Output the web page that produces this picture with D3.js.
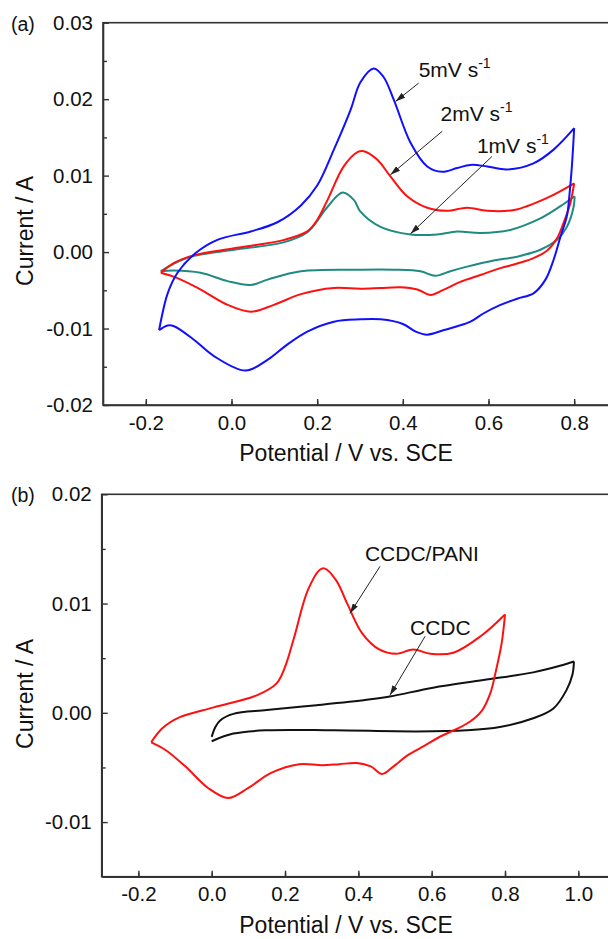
<!DOCTYPE html>
<html>
<head>
<meta charset="utf-8">
<script src="https://cdn.jsdelivr.net/npm/d3@7"></script>
<style>
body { margin: 0; background: #fff; }
svg { display: block; font-family: "Liberation Sans", Arial, sans-serif; }
</style>
</head>
<body>
<div id="container"></div>
<script>
// CV curves, [potential (V), current (A)]
// panel (a): scan rates, each loop split into forward / reverse sweep
const blue5Fwd = [[-0.169,-0.0102],[-0.149,-0.0054],[-0.126,-0.0027],[-0.083,-0.0001],[-0.033,0.0016],[0.045,0.0027],[0.107,0.0039],[0.162,0.0061],[0.2,0.0087],[0.239,0.0134],[0.278,0.0186],[0.301,0.0222],[0.332,0.024],[0.355,0.0229],[0.379,0.0199],[0.418,0.0143],[0.457,0.0112],[0.492,0.0105],[0.527,0.011],[0.558,0.0114],[0.597,0.0112],[0.643,0.0108],[0.705,0.0116],[0.752,0.0134],[0.80,0.0162]];
const blue5Rev = [[0.80,0.0162],[0.795,0.0115],[0.789,0.0075],[0.783,0.0047],[0.768,0.002],[0.752,-0.001],[0.733,-0.0036],[0.705,-0.0054],[0.667,-0.0061],[0.628,-0.0069],[0.589,-0.008],[0.558,-0.0091],[0.527,-0.0097],[0.496,-0.0102],[0.457,-0.0108],[0.43,-0.0104],[0.4,-0.0094],[0.348,-0.0088],[0.301,-0.0088],[0.239,-0.0091],[0.177,-0.0104],[0.13,-0.0121],[0.084,-0.0141],[0.033,-0.0155],[-0.041,-0.0136],[-0.087,-0.0115],[-0.134,-0.0097],[-0.149,-0.0096],[-0.169,-0.0102]];
const red2Fwd = [[-0.165,-0.0027],[-0.134,-0.0014],[-0.087,-0.0004],[0.006,0.0005],[0.123,0.0016],[0.177,0.0027],[0.2,0.0042],[0.224,0.0068],[0.262,0.0112],[0.295,0.0131],[0.309,0.0132],[0.34,0.0121],[0.371,0.0099],[0.41,0.0073],[0.457,0.0058],[0.503,0.0054],[0.55,0.0058],[0.597,0.0054],[0.659,0.0055],[0.737,0.0071],[0.80,0.009]];
const red2Rev = [[0.80,0.009],[0.791,0.0064],[0.775,0.0038],[0.76,0.0018],[0.737,0.0002],[0.705,-0.0008],[0.667,-0.0015],[0.628,-0.0021],[0.581,-0.003],[0.534,-0.0039],[0.496,-0.0049],[0.465,-0.0056],[0.434,-0.0049],[0.395,-0.0046],[0.348,-0.0047],[0.301,-0.0048],[0.239,-0.0047],[0.162,-0.0055],[0.099,-0.0069],[0.045,-0.0078],[-0.009,-0.0069],[-0.072,-0.0049],[-0.126,-0.0034],[-0.165,-0.0027]];
const teal1Fwd = [[-0.165,-0.0025],[-0.134,-0.0015],[-0.087,-0.0005],[0.006,0.0003],[0.123,0.0013],[0.177,0.0026],[0.224,0.0059],[0.259,0.0078],[0.286,0.0068],[0.301,0.0053],[0.348,0.0033],[0.418,0.0023],[0.48,0.0023],[0.527,0.0027],[0.581,0.0025],[0.651,0.0029],[0.721,0.0044],[0.768,0.006],[0.801,0.0073]];
const teal1Rev = [[0.801,0.0073],[0.799,0.006],[0.783,0.0033],[0.76,0.0016],[0.721,0.0003],[0.667,-0.0006],[0.612,-0.0011],[0.55,-0.0019],[0.511,-0.0025],[0.476,-0.0031],[0.441,-0.0025],[0.379,-0.0023],[0.301,-0.0023],[0.162,-0.0025],[0.084,-0.0036],[0.045,-0.0043],[-0.009,-0.0038],[-0.072,-0.0027],[-0.134,-0.0024],[-0.165,-0.0025]];
// panel (b): bare CCDC electrode (the CCDC/PANI curve is the 2 mV/s one)
const ccdcFwd = [[0.0,-0.0022],[0.01,-0.0013],[0.023,-0.0007],[0.059,-0.0001],[0.15,0.00025],[0.286,0.0007],[0.423,0.0012],[0.486,0.0015],[0.604,0.0023],[0.741,0.003],[0.877,0.0037],[0.95,0.0043],[0.988,0.0047]];
const ccdcRev = [[0.988,0.0047],[0.984,0.0035],[0.968,0.0021],[0.932,0.0004],[0.877,-0.0005],[0.786,-0.0013],[0.695,-0.0016],[0.559,-0.0017],[0.332,-0.0016],[0.15,-0.0016],[0.059,-0.0019],[0.0,-0.0026]];

// tick values
const xTicksA = [-0.2, 0.0, 0.2, 0.4, 0.6, 0.8];
const yTicksA = [-0.02, -0.01, 0.0, 0.01, 0.02, 0.03];
const xTicksB = [-0.2, 0.0, 0.2, 0.4, 0.6, 0.8, 1.0];
const yTicksB = [-0.01, 0.0, 0.01, 0.02];

// labels: text, superscript, text anchor, arrow start, arrow tip (data units)
const labelsA = [
  ["5mV s", "-1", [0.437, 0.0229], [0.437, 0.0221], [0.383, 0.0197]],
  ["2mV s", "-1", [0.488, 0.0171], [0.492, 0.0158], [0.371, 0.0101]],
  ["1mV s", "-1", [0.573, 0.0129], [0.608, 0.0125], [0.418, 0.0024]]
];
const labelsB = [
  ["CCDC/PANI", "", [0.418, 0.0139], [0.459, 0.0134], [0.377, 0.0091]],
  ["CCDC", "", [0.541, 0.0071], [0.582, 0.0070], [0.486, 0.0016]]
];

const width = 608;
const height = 939;

const svg = d3.create("svg")
    .attr("width", width)
    .attr("height", height)
    .attr("viewBox", [0, 0, width, height]);

svg.append("defs").append("marker")
    .attr("id", "arrow")
    .attr("markerUnits", "userSpaceOnUse")
    .attr("viewBox", "0 0 10 6")
    .attr("refX", 10).attr("refY", 3)
    .attr("markerWidth", 10).attr("markerHeight", 6)
    .attr("orient", "auto")
  .append("path")
    .attr("d", "M0,0L10,3L0,6z")
    .attr("fill", "#222");

const line = d3.line().curve(d3.curveCatmullRom.alpha(0.5));

function drawPanel(p) {
  const x = d3.scaleLinear().domain(p.xDomain).range([p.left, p.right]);
  const y = d3.scaleLinear().domain(p.yDomain).range([p.bottom, p.top]);
  const g = svg.append("g");

  // frame (right edge falls just outside the page, as in the original)
  g.append("rect")
      .attr("x", p.left).attr("y", p.top)
      .attr("width", p.right - p.left).attr("height", p.bottom - p.top)
      .attr("fill", "none").attr("stroke", "#333").attr("stroke-width", 1.6);

  const xMinor = d3.range(p.xDomain[0] + 0.1, p.xDomain[1], 0.2);

  // x axis, ticks pointing inward
  g.append("g")
      .attr("transform", `translate(0,${p.bottom})`)
      .call(d3.axisBottom(x).tickValues(p.xTicks).tickSize(-6).tickSizeOuter(0).tickPadding(10)
        .tickFormat(d => d.toFixed(1)))
      .call(a => a.select(".domain").attr("stroke", "#333").attr("stroke-width", 1.6));
  g.append("g")
      .attr("transform", `translate(0,${p.bottom})`)
      .call(d3.axisBottom(x).tickValues(xMinor).tickSize(-4).tickSizeOuter(0).tickFormat(""))
      .call(a => a.select(".domain").remove());

  // y axis
  g.append("g")
      .attr("transform", `translate(${p.left},0)`)
      .call(d3.axisLeft(y).tickValues(p.yTicks).tickSize(-6).tickSizeOuter(0).tickPadding(10)
        .tickFormat(d => Math.abs(d) < 1e-9 ? "0.00" : d.toFixed(2)))
      .call(a => a.select(".domain").attr("stroke", "#333").attr("stroke-width", 1.6));
  g.append("g")
      .attr("transform", `translate(${p.left},0)`)
      .call(d3.axisLeft(y).tickValues(p.yMinor).tickSize(-4).tickSizeOuter(0).tickFormat(""))
      .call(a => a.select(".domain").remove());

  g.selectAll(".tick line").attr("stroke", "#333").attr("stroke-width", 1.4);
  g.selectAll(".tick text").attr("font-size", 20.5).attr("fill", "#111")
      .attr("font-family", "'Liberation Sans', Arial, sans-serif");

  // titles
  g.append("text")
      .attr("x", p.xTitleX).attr("y", p.bottom + 56)
      .attr("text-anchor", "middle").attr("font-size", 23).attr("fill", "#111")
      .text("Potential / V vs. SCE");
  g.append("text")
      .attr("transform", `translate(33,${p.yTitleY}) rotate(-90)`)
      .attr("text-anchor", "middle").attr("font-size", 23).attr("fill", "#111")
      .text("Current / A");
  g.append("text")
      .attr("x", 11).attr("y", p.top + 8)
      .attr("font-size", 19.5).attr("fill", "#111")
      .text(p.tag);

  // curves
  p.curves.forEach(c => {
    g.append("path")
        .attr("d", line(c.data.map(d => [x(d[0]), y(d[1])])))
        .attr("fill", "none")
        .attr("stroke", c.color)
        .attr("stroke-width", 2)
        .attr("stroke-linejoin", "round");
  });

  // callouts
  p.labels.forEach(([txt, sup, t, a0, a1]) => {
    const label = g.append("text")
        .attr("x", x(t[0])).attr("y", y(t[1]))
        .attr("font-size", 21).attr("fill", "#111")
        .text(txt);
    if (sup) label.append("tspan").attr("dy", -9).attr("font-size", 14).text(sup);
    g.append("line")
        .attr("x1", x(a0[0])).attr("y1", y(a0[1]))
        .attr("x2", x(a1[0])).attr("y2", y(a1[1]))
        .attr("stroke", "#222").attr("stroke-width", 1)
        .attr("marker-end", "url(#arrow)");
  });
}

const blue = "#1010ff", red = "#ff1010", teal = "#1f8a82", black = "#111";

drawPanel({
  tag: "(a)",
  left: 103, right: 617, top: 22.7, bottom: 405,
  xDomain: [-0.3, 0.9], yDomain: [-0.02, 0.03],
  xTicks: xTicksA, yTicks: yTicksA,
  yMinor: [-0.015, -0.005, 0.005, 0.015, 0.025],
  xTitleX: 346, yTitleY: 231,
  curves: [
    {data: teal1Fwd, color: teal}, {data: teal1Rev, color: teal},
    {data: red2Fwd, color: red}, {data: red2Rev, color: red},
    {data: blue5Fwd, color: blue}, {data: blue5Rev, color: blue}
  ],
  labels: labelsA
});

drawPanel({
  tag: "(b)",
  left: 101.7, right: 615, top: 494.3, bottom: 876.7,
  xDomain: [-0.3, 1.1], yDomain: [-0.015, 0.02],
  xTicks: xTicksB, yTicks: yTicksB,
  yMinor: [-0.005, 0.005, 0.015],
  xTitleX: 346, yTitleY: 694,
  curves: [
    {data: ccdcFwd, color: black}, {data: ccdcRev, color: black},
    {data: red2Fwd, color: red}, {data: red2Rev, color: red}
  ],
  labels: labelsB
});

container.append(svg.node());
</script>
</body>
</html>
